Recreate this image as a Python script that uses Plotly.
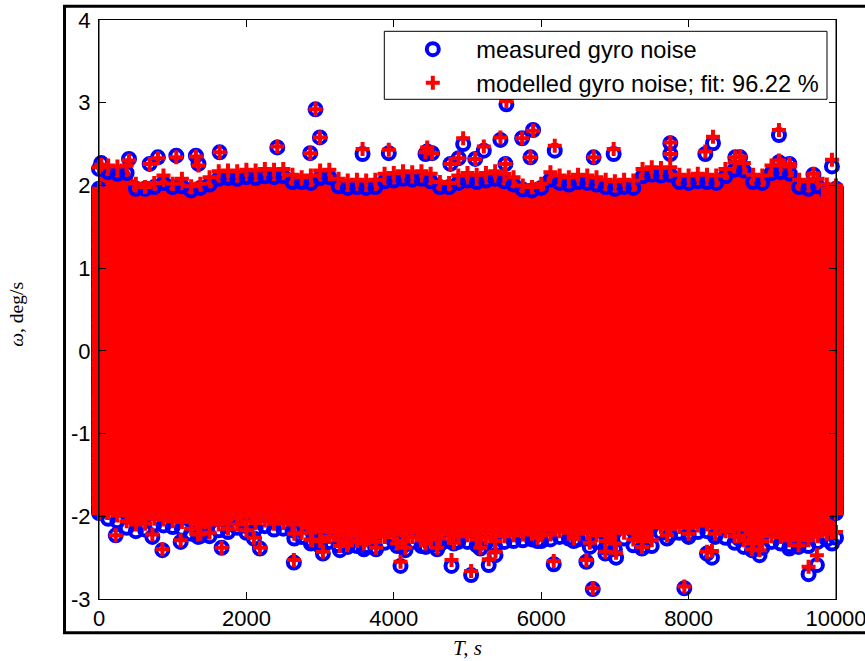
import plotly.graph_objects as go

# Isolated peaks: time, measured, modelled
peak_t = [30, 407, 687, 800, 1049, 1315, 1350, 1637, 2419, 2866, 2938, 2997, 3576, 3932, 4430, 4453, 4520, 4768, 4880, 4941, 5105, 5221, 5447, 5515, 5528, 5741, 5854, 5890, 6184, 6712, 6983, 7752, 7752, 8227, 8331, 8633, 8700, 9226, 9226, 9368, 9694, 9945,
          227, 724, 860, 1108, 1345, 1664, 2000, 2102, 2183, 2644, 2650, 2893, 3010, 3038, 3268, 3365, 3594, 3760, 4045, 4091, 4158, 4434, 4588, 4783, 4814, 5049, 5175, 5288, 5380, 5950, 6170, 6441, 6613, 6659, 6700, 6871, 7016, 7368, 7707, 7942, 8000, 8249, 8317, 8360, 8680, 8860, 8963, 9366, 9492, 9628, 9741, 9945]
peak_measured = [2.27, 2.32, 2.26, 2.34, 2.36, 2.36, 2.26, 2.40, 2.46, 2.39, 2.92, 2.58, 2.38, 2.39, 2.38, 2.41, 2.39, 2.26, 2.33, 2.50, 2.32, 2.42, 2.55, 2.26, 2.98, 2.57, 2.34, 2.67, 2.42, 2.34, 2.38, 2.51, 2.38, 2.38, 2.51, 2.34, 2.34, 2.61, 2.28, 2.26, 2.13, 2.23,
                 -2.23, -2.25, -2.41, -2.31, -2.25, -2.38, -2.20, -2.27, -2.39, -2.56, -2.27, -2.31, -2.30, -2.45, -2.41, -2.36, -2.40, -2.40, -2.36, -2.60, -2.41, -2.37, -2.40, -2.60, -2.33, -2.71, -2.39, -2.59, -2.47, -2.30, -2.58, -2.30, -2.55, -2.37, -2.88, -2.45, -2.50, -2.39, -2.27, -2.87, -2.25, -2.45, -2.50, -2.25, -2.27, -2.41, -2.47, -2.39, -2.37, -2.70, -2.59, -2.33]
peak_modelled = [2.25, 2.30, 2.26, 2.33, 2.34, 2.35, 2.24, 2.40, 2.47, 2.39, 2.92, 2.58, 2.44, 2.43, 2.40, 2.46, 2.39, 2.26, 2.33, 2.57, 2.32, 2.47, 2.58, 2.26, 3.02, 2.57, 2.34, 2.66, 2.48, 2.34, 2.44, 2.52, 2.38, 2.41, 2.59, 2.34, 2.35, 2.67, 2.30, 2.26, 2.14, 2.31,
                 -2.23, -2.22, -2.40, -2.29, -2.22, -2.38, -2.17, -2.26, -2.38, -2.53, -2.21, -2.29, -2.29, -2.43, -2.36, -2.35, -2.33, -2.38, -2.33, -2.55, -2.38, -2.33, -2.38, -2.53, -2.32, -2.66, -2.38, -2.52, -2.43, -2.26, -2.54, -2.27, -2.53, -2.32, -2.87, -2.43, -2.44, -2.37, -2.23, -2.85, -2.21, -2.43, -2.42, -2.21, -2.24, -2.40, -2.41, -2.29, -2.35, -2.61, -2.47, -2.20]

# Top and bottom of the solid band, read every 125 s or so
band_t = [0, 125, 250, 375, 500, 625, 750, 875, 1000, 1125, 1250, 1375, 1500, 1625, 1750, 1875, 2000, 2125, 2250, 2375, 2500, 2625, 2750, 2875, 3000, 3125, 3250, 3375, 3500, 3625, 3750, 3875, 4000, 4125, 4250, 4375, 4500, 4625, 4750, 4875, 5000, 5125, 5250, 5375, 5500, 5625, 5750, 5875, 6000, 6125, 6250, 6375, 6500, 6625, 6750, 6875, 7000, 7125, 7250, 7375, 7500, 7625, 7750, 7875, 8000, 8125, 8250, 8375, 8500, 8625, 8750, 8875, 9000, 9125, 9250, 9375, 9500, 9625, 9750, 9875, 10000]
band_top = [2.22, 2.24, 2.23, 2.24, 2.02, 1.98, 2.03, 2.12, 2.02, 2.08, 1.99, 2.02, 2.10, 2.17, 2.18, 2.17, 2.19, 2.18, 2.20, 2.19, 2.20, 2.13, 2.10, 2.12, 2.18, 2.19, 2.08, 2.06, 2.07, 2.06, 2.07, 2.14, 2.15, 2.17, 2.16, 2.17, 2.14, 2.04, 2.03, 2.12, 2.15, 2.13, 2.15, 2.17, 2.14, 2.10, 2.00, 1.98, 2.02, 2.16, 2.12, 2.10, 2.13, 2.12, 2.10, 2.07, 2.05, 2.07, 2.06, 2.20, 2.22, 2.21, 2.22, 2.13, 2.12, 2.14, 2.13, 2.12, 2.20, 2.28, 2.27, 2.13, 2.12, 2.24, 2.25, 2.23, 2.07, 2.05, 2.08, 2.01, 2.00]
band_top_measured = [2.20, 2.16, 2.14, 2.15, 1.96, 1.96, 1.98, 2.03, 1.98, 1.99, 1.94, 1.97, 2.01, 2.08, 2.09, 2.08, 2.10, 2.09, 2.11, 2.10, 2.11, 2.04, 2.04, 2.03, 2.09, 2.10, 1.99, 1.97, 1.98, 1.97, 1.98, 2.05, 2.06, 2.08, 2.07, 2.08, 2.05, 1.98, 1.98, 2.03, 2.06, 2.04, 2.06, 2.08, 2.05, 2.01, 1.95, 1.94, 1.97, 2.07, 2.03, 2.01, 2.04, 2.03, 2.01, 1.98, 1.96, 1.98, 1.97, 2.11, 2.13, 2.12, 2.13, 2.04, 2.03, 2.05, 2.04, 2.03, 2.11, 2.19, 2.18, 2.04, 2.03, 2.15, 2.16, 2.14, 1.98, 1.96, 1.99, 1.92, 1.92]
band_bot = [-1.88, -1.96, -1.99, -2.06, -2.10, -2.09, -2.03, -2.04, -2.06, -2.07, -2.15, -2.21, -2.20, -2.10, -2.15, -2.10, -2.06, -2.08, -2.05, -2.09, -2.08, -2.10, -2.20, -2.28, -2.30, -2.25, -2.29, -2.31, -2.30, -2.29, -2.31, -2.25, -2.22, -2.30, -2.25, -2.29, -2.28, -2.27, -2.22, -2.24, -2.23, -2.28, -2.26, -2.30, -2.24, -2.23, -2.22, -2.21, -2.23, -2.22, -2.18, -2.20, -2.21, -2.20, -2.23, -2.30, -2.33, -2.20, -2.28, -2.30, -2.29, -2.13, -2.15, -2.13, -2.14, -2.11, -2.10, -2.14, -2.18, -2.24, -2.29, -2.33, -2.30, -2.24, -2.25, -2.28, -2.26, -2.29, -2.24, -2.21, -2.19]
band_bot_measured = [-1.93, -2.03, -2.06, -2.14, -2.18, -2.16, -2.10, -2.11, -2.13, -2.15, -2.21, -2.24, -2.24, -2.17, -2.19, -2.14, -2.12, -2.15, -2.12, -2.16, -2.15, -2.17, -2.25, -2.33, -2.36, -2.31, -2.35, -2.37, -2.36, -2.36, -2.38, -2.32, -2.30, -2.36, -2.31, -2.36, -2.35, -2.34, -2.30, -2.31, -2.31, -2.35, -2.32, -2.37, -2.31, -2.30, -2.29, -2.28, -2.30, -2.28, -2.25, -2.27, -2.28, -2.27, -2.31, -2.38, -2.40, -2.27, -2.35, -2.37, -2.36, -2.20, -2.22, -2.20, -2.21, -2.19, -2.18, -2.21, -2.26, -2.32, -2.37, -2.41, -2.38, -2.31, -2.33, -2.35, -2.33, -2.36, -2.31, -2.28, -2.26]

# Samples at both ends of the record, which spill past the frame of the axes
edge_y = [-1.96, -1.92, -1.88, -1.84, -1.8, -1.76, -1.72, -1.68, -1.64, -1.6, -1.56, -1.52, -1.48, -1.44, -1.4, -1.36, -1.32, -1.28, -1.24, -1.2, -1.16, -1.12, -1.08, -1.04, -1.0, -0.96, -0.92, -0.88, -0.84, -0.8, -0.76, -0.72, -0.68, -0.64, -0.6, -0.56, -0.52, -0.48, -0.44, -0.4, -0.36, -0.32, -0.28, -0.24, -0.2, -0.16, -0.12, -0.08, -0.04, 0.0, 0.04, 0.08, 0.12, 0.16, 0.2, 0.24, 0.28, 0.32, 0.36, 0.4, 0.44, 0.48, 0.52, 0.56, 0.6, 0.64, 0.68, 0.72, 0.76, 0.8, 0.84, 0.88, 0.92, 0.96, 1.0, 1.04, 1.08, 1.12, 1.16, 1.2, 1.24, 1.28, 1.32, 1.36, 1.4, 1.44, 1.48, 1.52, 1.56, 1.6, 1.64, 1.68, 1.72, 1.76, 1.8, 1.84, 1.88, 1.92, 1.96]

x_ticks = [0, 2000, 4000, 6000, 8000, 10000]
x_labels = ["0", "2000", "4000", "6000", "8000", "10000"]
y_ticks = [-3, -2, -1, 0, 1, 2, 3, 4]
y_labels = ["-3", "-2", "-1", "0", "1", "2", "3", "4"]

edge_t_lo = [0] * len(edge_y)
edge_t_hi = [10000] * len(edge_y)
inner_t_lo = [110] * len(edge_y)
inner_t_hi = [9890] * len(edge_y)

measured_x = edge_t_lo + edge_t_hi + band_t + band_t + peak_t
measured_y = edge_y + edge_y + band_top_measured + band_bot_measured + peak_measured
modelled_x = edge_t_lo + edge_t_hi + inner_t_lo + inner_t_hi + band_t + band_t + peak_t
modelled_y = edge_y + edge_y + edge_y + edge_y + band_top + band_bot + peak_modelled

fig = go.Figure()
fig.add_trace(go.Scatter(
    x=band_t + band_t[::-1], y=band_top + band_bot[::-1], mode="lines",
    fill="toself", fillcolor="#ff0000", line=dict(color="#ff0000", width=0),
    showlegend=False, hoverinfo="skip"))
fig.add_trace(go.Scatter(
    x=measured_x, y=measured_y, mode="markers", name="measured gyro noise", cliponaxis=False,
    marker=dict(symbol="circle-open", size=12, color="#0000ff", line=dict(color="#0000ff", width=4))))
fig.add_trace(go.Scatter(
    x=modelled_x, y=modelled_y, mode="markers", name="modelled gyro noise; fit: 96.22 %", cliponaxis=False,
    marker=dict(symbol="cross-thin-open", size=10, color="#ff0000", line=dict(color="#ff0000", width=4))))
# The left and right axis lines stay visible over the marks
fig.add_trace(go.Scatter(
    x=[0, 10000], y=[0.5, 0.5], mode="markers", cliponaxis=False, showlegend=False, hoverinfo="skip",
    marker=dict(symbol="line-ns-open", size=413.6, color="black", line=dict(color="black", width=1))))

L, R, T, B = 98.5, 836.0, 19.7, 598.7
def px(v):
    return (v - L) / (R - L)
def py(v):
    return (B - v) / (B - T)

axis_font = dict(family="Liberation Sans, Arial, sans-serif", size=22, color="black")
title_font = dict(family="Liberation Serif, Times New Roman, serif", color="black")

fig.update_layout(
    width=865, height=661, autosize=False,
    margin=dict(l=L, r=865 - R, t=T, b=661 - B, autoexpand=False),
    paper_bgcolor="white", plot_bgcolor="white",
    xaxis=dict(range=[0, 10000], tickvals=x_ticks, ticktext=x_labels, ticks="inside", ticklen=7, tickwidth=1, tickcolor="black",
               showline=True, linecolor="black", linewidth=1, mirror="ticks", showgrid=False, zeroline=False,
               ticklabeloverflow="allow",
               tickfont=axis_font, title=dict(text="<i>T, s</i>", font=dict(size=21, **title_font), standoff=9)),
    yaxis=dict(range=[-3, 4], tickvals=y_ticks, ticktext=y_labels, ticks="inside", ticklen=7, tickwidth=1, tickcolor="black",
               showline=True, linecolor="black", linewidth=1, mirror="ticks", showgrid=False, zeroline=False,
               ticklabelstandoff=3,
               tickfont=axis_font, title=dict(text="<i>ω</i>, deg/s&nbsp;&nbsp;", font=dict(size=19.5, **title_font), standoff=42)),
    legend=dict(x=px(389), y=py(27), xanchor="left", yanchor="top", bgcolor="rgba(0,0,0,0)",
                borderwidth=0, itemwidth=77, tracegroupgap=0,
                font=dict(family="Liberation Sans, Arial, sans-serif", size=23.6, color="black")),
    shapes=[dict(type="rect", xref="paper", yref="paper", x0=px(64), x1=px(900), y0=py(632.5), y1=py(6),
                 line=dict(color="black", width=3), fillcolor="rgba(0,0,0,0)", layer="above"),
            dict(type="rect", xref="paper", yref="paper", x0=px(384), x1=px(827), y0=py(99), y1=py(31),
                 line=dict(color="black", width=1), fillcolor="white", layer="above")],
)
fig.write_html("out.html", post_script="document.body.style.margin='0';", config={"displayModeBar": False})
